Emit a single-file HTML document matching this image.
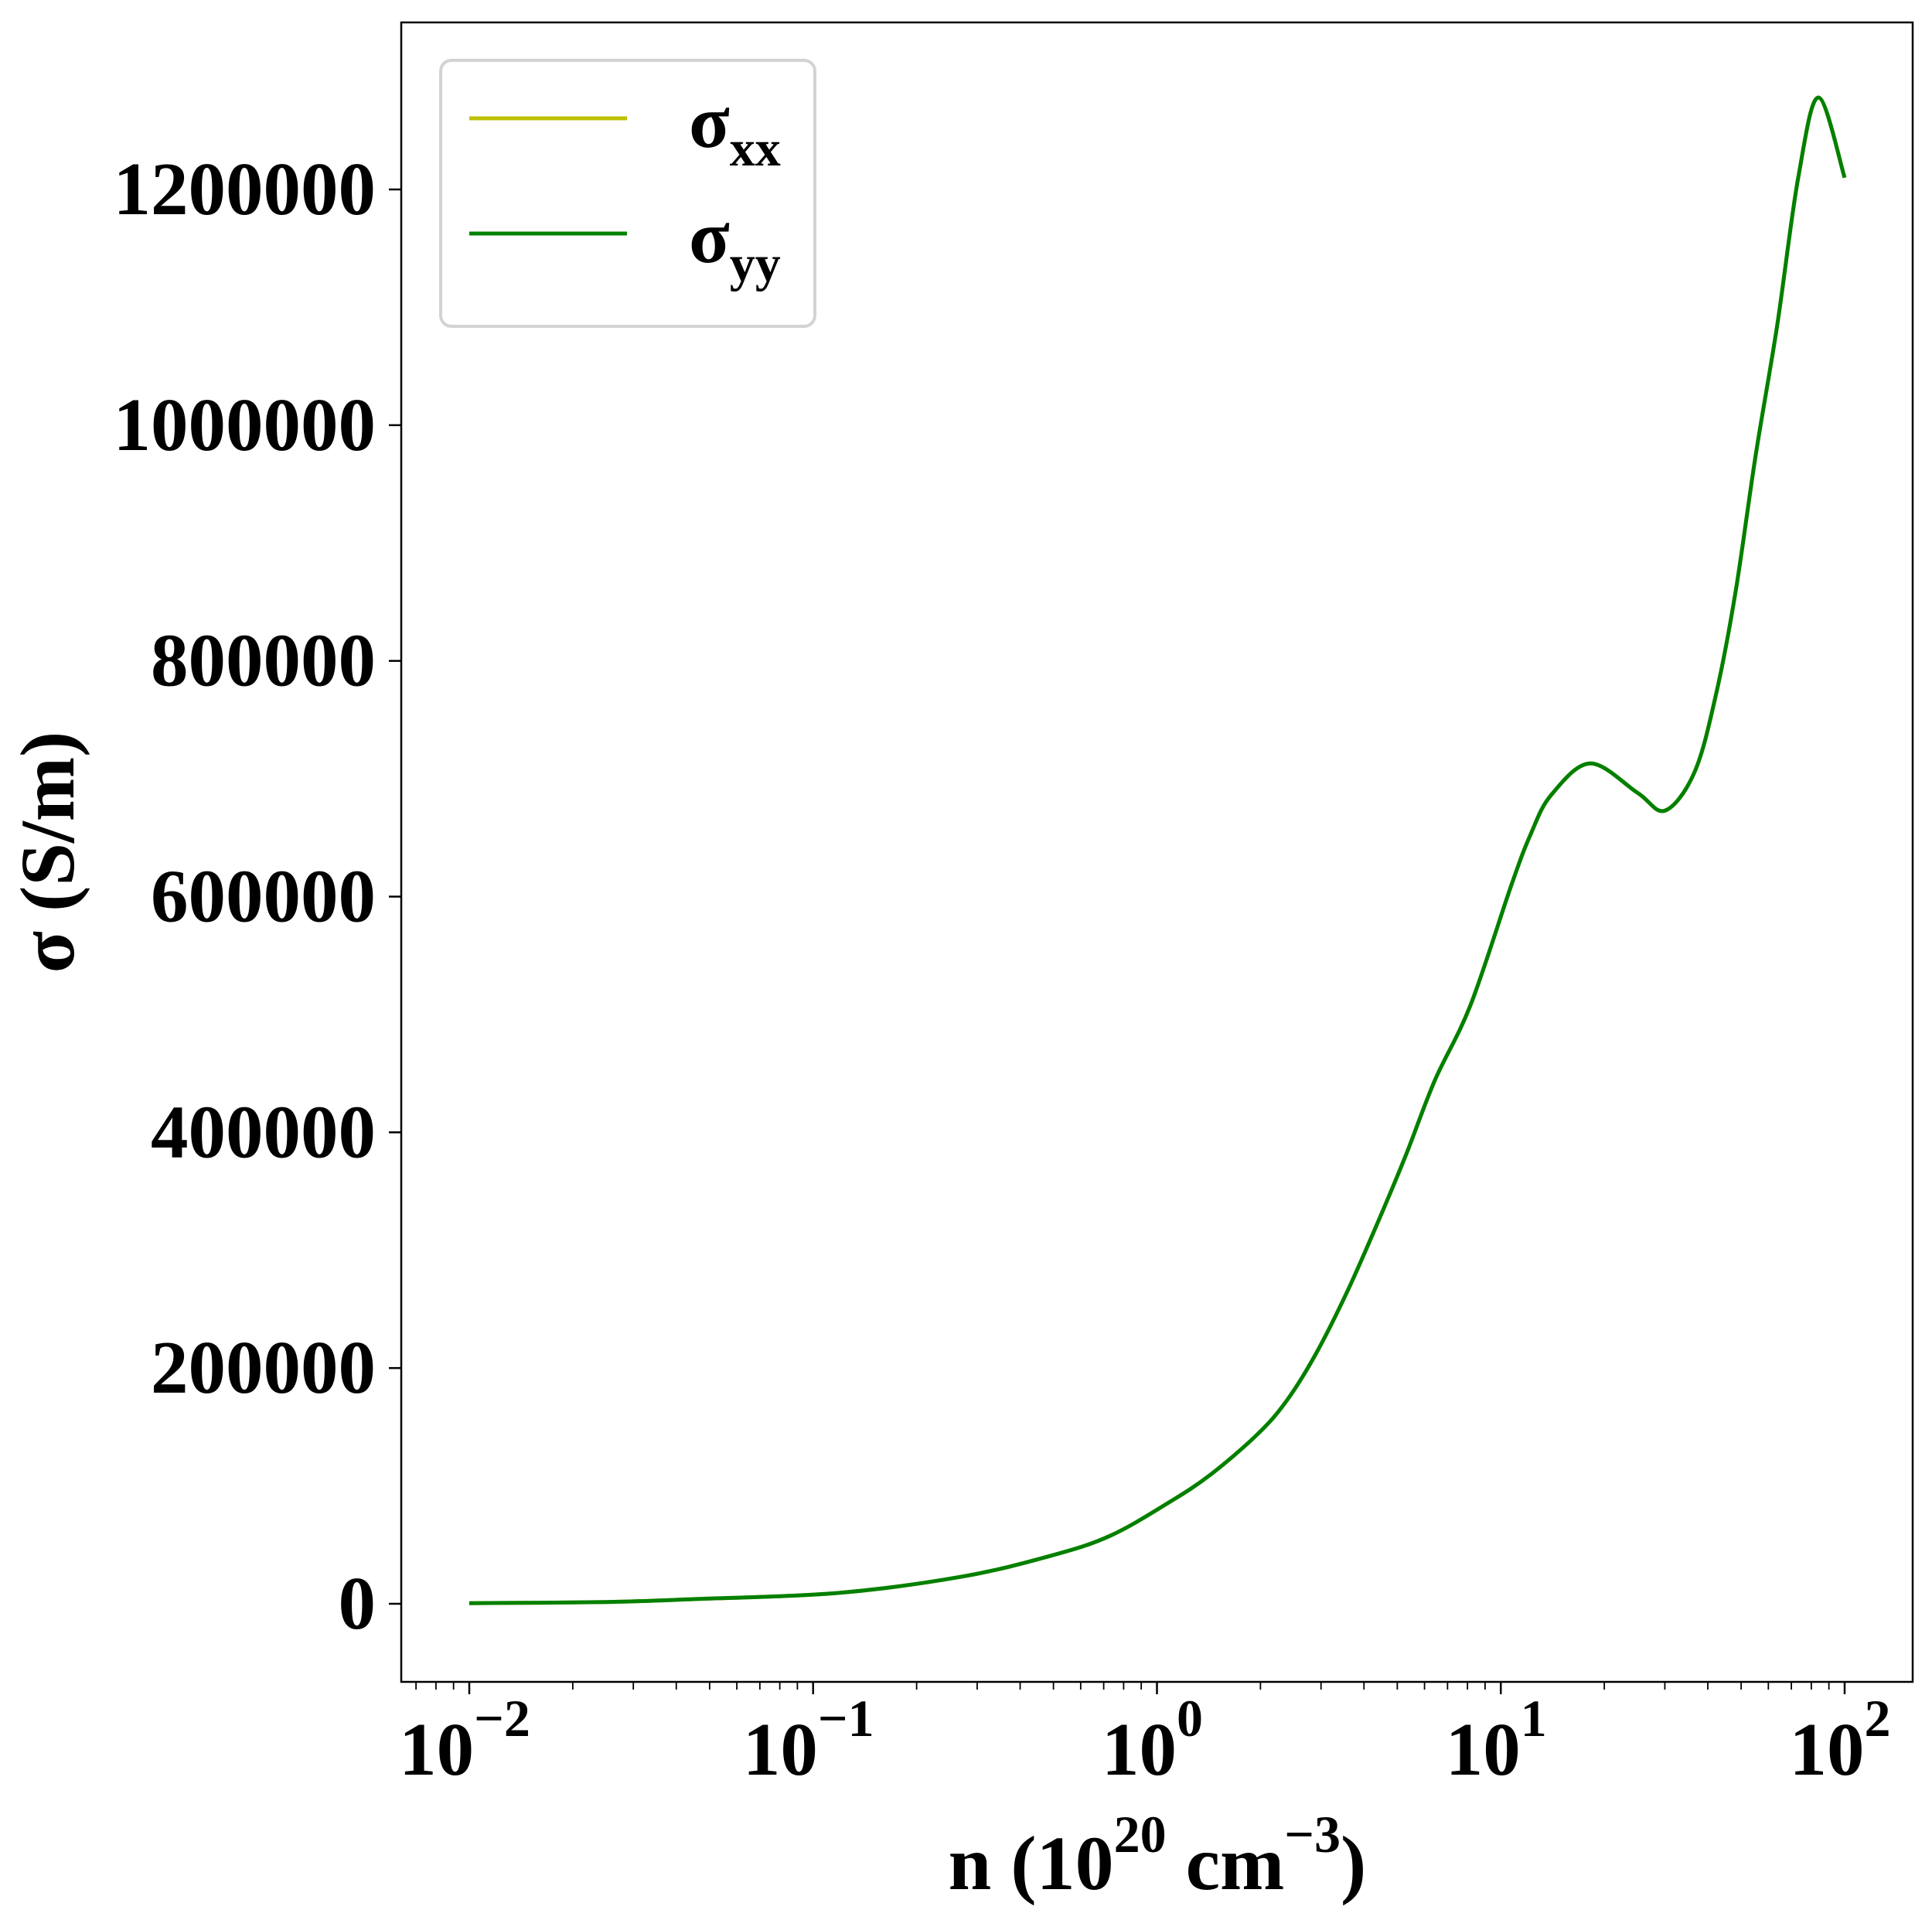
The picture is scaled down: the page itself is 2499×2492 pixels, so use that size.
<!DOCTYPE html>
<html><head><meta charset="utf-8"><style>
html,body{margin:0;padding:0;background:#fff;}
svg{display:block;font-family:"Liberation Serif",serif;font-weight:bold;}
</style></head><body>
<svg id="chart" width="2499" height="2492" viewBox="0 0 2499 2492" xmlns="http://www.w3.org/2000/svg">
<rect x="519" y="29" width="1955" height="2146" fill="#fff" stroke="#000" stroke-width="2.5"/>
<g id="ticks"></g>
<g id="series"></g>
<text x="72" y="1102" font-size="100" text-anchor="middle" dominant-baseline="middle" transform="rotate(-90 72 1102)">σ (S/m)</text>
<text x="1497" y="2443" font-size="100" text-anchor="middle">n (10<tspan font-size="68" dy="-48">20</tspan><tspan dy="48"> cm</tspan><tspan font-size="68" dy="-48">−3</tspan><tspan dy="48">)</tspan></text>
<g>
<rect x="570" y="78" width="484" height="344" rx="14" fill="#fff" stroke="#d3d3d3" stroke-width="4"/>
<line x1="607" y1="153" x2="811" y2="153" stroke="#bfbf00" stroke-width="5"/>
<text x="891" y="190" font-size="97">σ<tspan font-size="66" dy="24">xx</tspan></text>
<line x1="607" y1="302" x2="811" y2="302" stroke="#008000" stroke-width="5"/>
<text x="891" y="339" font-size="97">σ<tspan font-size="66" dy="24">yy</tspan></text>
</g>
</svg>
<script>
const logN = [-2, -1.6, -1.341, -0.927, -0.568, -0.309, -0.136, 0.035, 0.156, 0.293, 0.379, 0.464, 0.552, 0.637, 0.723, 0.808, 0.912, 1.031, 1.087, 1.146, 1.26, 1.398, 1.478, 1.564, 1.627, 1.683, 1.741, 1.804, 1.865, 1.924, 2.0];
const sigmaXX = [500, 1500, 4000, 9200, 23000, 40700, 57700, 86000, 109600, 144000, 173000, 213000, 264000, 320000, 380000, 444000, 508000, 610000, 653000, 686000, 713000, 688000, 673000, 706000, 773000, 859000, 974000, 1085000, 1210000, 1278000, 1210000];
const sigmaYY = [500, 1500, 4000, 9200, 23000, 40700, 57700, 86000, 109600, 144000, 173000, 213000, 264000, 320000, 380000, 444000, 508000, 610000, 653000, 686000, 713000, 688000, 673000, 706000, 773000, 859000, 974000, 1085000, 1210000, 1278000, 1210000];
const yTicks = [0, 200000, 400000, 600000, 800000, 1000000, 1200000];
const xDecades = [-2, -1, 0, 1, 2];
const xExpLabels = ["−2", "−1", "0", "1", "2"];

const NS = "http://www.w3.org/2000/svg";
function xScale(lg){ return 607 + (lg + 2) * 444.75; }
function yScale(v){ return 2074 - v * (1829 / 1200000); }
function mk(tag, attrs, parent){ const e = document.createElementNS(NS, tag); for (const k in attrs) e.setAttribute(k, attrs[k]); parent.appendChild(e); return e; }

const tg = document.getElementById('ticks');
yTicks.forEach(v => {
  const y = yScale(v);
  const l = mk('line', {x1: 503, x2: 519, y1: y, y2: y, stroke: '#000', 'stroke-width': 2.5}, tg);
  
  
  const t = mk('text', {x: 486, y: y + 32, 'font-size': 97, 'text-anchor': 'end'}, tg);
  t.textContent = String(v);
  
  
});
xDecades.forEach((d, i) => {
  const x = xScale(d);
  const l = mk('line', {x1: x, x2: x, y1: 2175, y2: 2191, stroke: '#000', 'stroke-width': 2.5}, tg);
  
  
  const t = mk('text', {x: x - 6, y: 2295, 'font-size': 97, 'text-anchor': 'middle'}, tg);
  t.innerHTML = '10<tspan font-size="68" dy="-50">' + xExpLabels[i] + '</tspan>';
  
  
});
for (let d = -3; d <= 2; d++) {
  for (let m = 2; m <= 9; m++) {
    const lg = d + Math.log10(m);
    const x = xScale(lg);
    if (x < 519 || x > 2474) continue;
    const l = mk('line', {x1: x, x2: x, y1: 2175, y2: 2185, stroke: '#000', 'stroke-width': 1.8}, tg);
    
    
  }
}

function pathFor(xs, ys){
  const p = xs.map((lg, i) => [xScale(lg), yScale(ys[i])]);
  let d = 'M' + p[0][0] + ',' + p[0][1];
  for (let i = 0; i < p.length - 1; i++) {
    const p0 = p[Math.max(0, i - 1)], p1 = p[i], p2 = p[i + 1], p3 = p[Math.min(p.length - 1, i + 2)];
    const c1x = p1[0] + (p2[0] - p0[0]) / 6, c1y = p1[1] + (p2[1] - p0[1]) / 6;
    const c2x = p2[0] - (p3[0] - p1[0]) / 6, c2y = p2[1] - (p3[1] - p1[1]) / 6;
    d += ' C' + c1x + ',' + c1y + ' ' + c2x + ',' + c2y + ' ' + p2[0] + ',' + p2[1];
  }
  return d;
}
const sg = document.getElementById('series');
const s1 = mk('path', {d: pathFor(logN, sigmaXX), fill: 'none', stroke: '#bfbf00', 'stroke-width': 5}, sg);


const s2 = mk('path', {d: pathFor(logN, sigmaYY), fill: 'none', stroke: '#008000', 'stroke-width': 5}, sg);


</script>
</body></html>
